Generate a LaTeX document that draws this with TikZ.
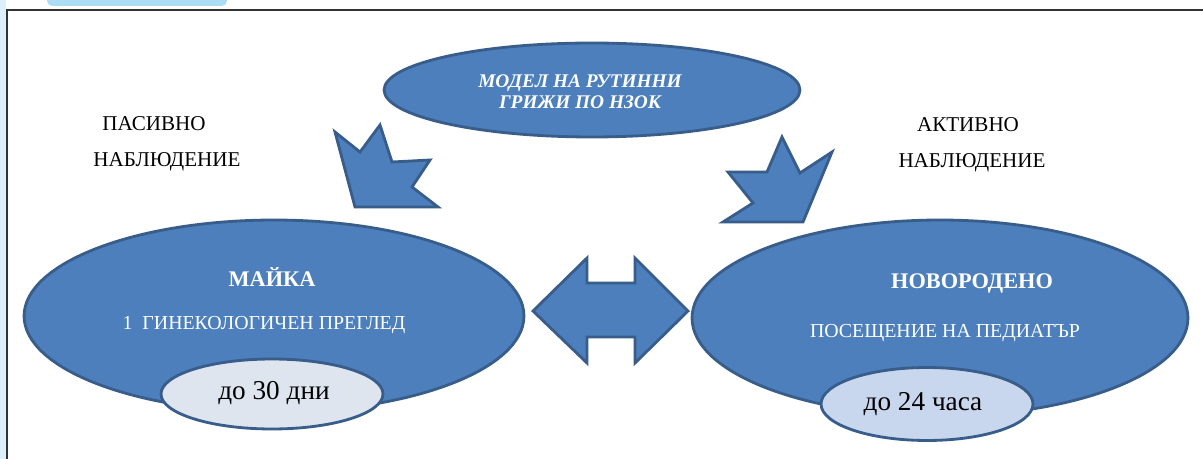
\documentclass[tikz,border=0pt]{standalone}
\usepackage{fontspec}
\setmainfont{Liberation Serif}
\usetikzlibrary{shapes.geometric}
\definecolor{fillblue}{HTML}{4C7FBC}
\definecolor{edgeblue}{HTML}{385D8A}
\definecolor{innerA}{HTML}{DFE5EF}
\definecolor{innerB}{HTML}{C9D7EE}
\definecolor{stripblue}{HTML}{DDEFFA}
\definecolor{tabblue}{HTML}{ABDDF4}
\definecolor{framegray}{HTML}{333333}
\tikzset{
  blueshape/.style={fill=fillblue, draw=edgeblue, line width=1.6pt, line join=miter},
  innershape/.style={draw=edgeblue, line width=1.6pt},
  labeltext/.style={font=\fontsize{12}{14}\selectfont, text=black},
  headtext/.style={font=\fontsize{12.7}{14}\selectfont\bfseries, text=white},
  subtext/.style={font=\fontsize{11.3}{13}\selectfont, text=white},
  inntext/.style={font=\fontsize{15.5}{17}\selectfont, text=black},
  toptext/.style={font=\fontsize{11}{13}\selectfont\bfseries\itshape, text=white, align=center}
}
\begin{document}
\begin{tikzpicture}[x=0.02cm, y=-0.02cm]
\useasboundingbox (0,0) rectangle (1203,459);
\fill[white] (0,0) rectangle (1203,459);
% background decorations
\fill[stripblue] (0,0) rectangle (6,459);
\fill[tabblue, rounded corners=3pt] (47,-5) rectangle (227,6);
\draw[framegray, line width=1.2pt] (7,459) -- (7,10) -- (1210,10);

% top ellipse
\node[blueshape, ellipse, minimum width=8.32cm, minimum height=1.88cm, inner sep=0pt] (top) at (592,90) {};
\node[toptext] (toplbl) at (580,92) {МОДЕЛ НА РУТИННИ\\[-1pt]ГРИЖИ ПО НЗОК};

% left and right ellipses
\node[blueshape, ellipse, minimum width=10cm, minimum height=3.84cm, inner sep=0pt] (mother) at (274,316) {};
\node[blueshape, ellipse, minimum width=9.92cm, minimum height=3.92cm, inner sep=0pt] (baby) at (940,318) {};
\node[innershape, fill=innerA, ellipse, minimum width=4.44cm, minimum height=1.4cm, inner sep=0pt] (mdays) at (272,394) {};
\node[innershape, fill=innerB, ellipse, minimum width=4.24cm, minimum height=1.46cm, inner sep=0pt] (bhours) at (927,404) {};

\node[headtext] (mlbl) at (272,277) {МАЙКА};
\node[subtext] (mexam) at (264,325) {1\ \ ГИНЕКОЛОГИЧЕН ПРЕГЛЕД};
\node[inntext] (mdlbl) at (274,393) {до 30 дни};
\node[headtext] (blbl) at (972,283) {НОВОРОДЕНО};
\node[subtext] (bvisit) at (945,333) {ПОСЕЩЕНИЕ НА ПЕДИАТЪР};
\node[inntext] (bhlbl) at (923,404) {до 24 часа};

% side labels
\node[labeltext] (pas1) at (154,124) {ПАСИВНО};
\node[labeltext] (pas2) at (167,162) {НАБЛЮДЕНИЕ};
\node[labeltext] (act1) at (968,125) {АКТИВНО};
\node[labeltext] (act2) at (972,163) {НАБЛЮДЕНИЕ};

% notched arrows
\draw[blueshape] (335,132) -- (360,152) -- (380,125) -- (392,162) -- (430,160) -- (412,187) -- (438,207) -- (355,207) -- cycle;
\draw[blueshape] (728,172) -- (767,172) -- (782,137) -- (800,173) -- (832,152) -- (803,222) -- (723,222) -- (753,203) -- cycle;

% double arrow between mother and baby
\draw[blueshape] (533,311) -- (587,258) -- (587,283) -- (635,283) -- (635,258) -- (688,311) -- (635,363) -- (635,337) -- (587,337) -- (587,363) -- cycle;
\end{tikzpicture}
\end{document}
